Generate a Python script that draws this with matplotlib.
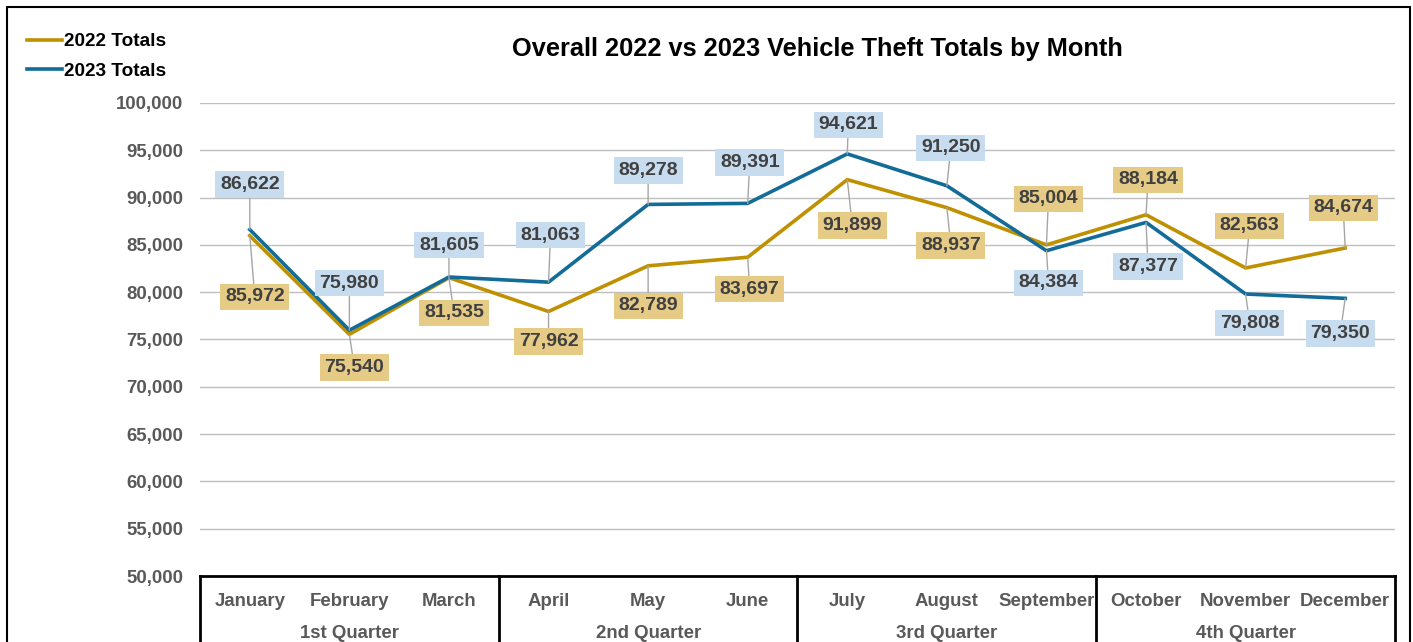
import matplotlib.pyplot as plt
import matplotlib.patches as mpatches
import matplotlib.transforms as mtransforms
from matplotlib.ticker import FuncFormatter, MultipleLocator

plt.rcParams['font.family'] = ['Liberation Sans', 'DejaVu Sans']

# Data
months = ["January", "February", "March", "April", "May", "June",
          "July", "August", "September", "October", "November", "December"]
quarters = ["1st Quarter", "2nd Quarter", "3rd Quarter", "4th Quarter"]
totals_2022 = [85972, 75540, 81535, 77962, 82789, 83697,
               91899, 88937, 85004, 88184, 82563, 84674]
totals_2023 = [86622, 75980, 81605, 81063, 89278, 89391,
               94621, 91250, 84384, 87377, 79808, 79350]

# label offsets (pixels, +y = down) from each point
off_2022 = [(5, 61), (5, 33), (5, 35), (0, 30), (0, 40), (2, 32),
            (5, 46), (4, 38), (2, -46), (2, -35), (4, -42), (-2, -40)]
off_2023 = [(0, -45), (0, -47), (0, -32), (2, -47), (0, -34), (2, -41),
            (1, -29), (4, -38), (2, 32), (2, 44), (4, 29), (-5, 35)]

gold = "#BF9000"
blue = "#136C98"
gold_bg = "#E5CB86"
blue_bg = "#C8DCF0"
gray_txt = "#595959"

fig, ax = plt.subplots(figsize=(14.13, 6.42), dpi=100)
fig.subplots_adjust(left=200/1413, right=1395/1413, top=1-103/642, bottom=1-576/642)

x = list(range(len(months)))
ax.plot(x, totals_2022, color=gold, lw=2.6, label="2022 Totals", zorder=3)
ax.plot(x, totals_2023, color=blue, lw=2.6, label="2023 Totals", zorder=4)

# data labels with leader lines
for vals, offs, bg in [(totals_2022, off_2022, gold_bg), (totals_2023, off_2023, blue_bg)]:
    for i, v in enumerate(vals):
        dx, dy = offs[i]
        ax.annotate(f"{v:,}", xy=(i, v), xytext=(dx, -dy), textcoords="offset pixels",
                    ha="center", va="center", fontsize=14, fontweight="bold", color="#404040",
                    bbox=dict(boxstyle="square,pad=0.24", fc=bg, ec="none"),
                    arrowprops=dict(arrowstyle="-", color="#A6A6A6", lw=1, shrinkA=0, shrinkB=0),
                    zorder=5, annotation_clip=False)

ax.set_xlim(-0.5, 11.5)
ax.set_ylim(50000, 100000)
ax.yaxis.set_major_locator(MultipleLocator(5000))
ax.yaxis.set_major_formatter(FuncFormatter(lambda v, p: f"{int(v):,}"))
ax.grid(axis="y", color="#BFBFBF", lw=1)
ax.set_axisbelow(True)
for s in ["top", "right", "left"]:
    ax.spines[s].set_visible(False)
ax.spines["bottom"].set_color("black")
ax.spines["bottom"].set_linewidth(2)
ax.tick_params(axis="y", length=0, labelsize=13.4, labelcolor=gray_txt, pad=12)
for t in ax.get_yticklabels():
    t.set_fontweight("bold")
ax.set_xticks([])

# Category axis with quarter grouping
trans = mtransforms.blended_transform_factory(ax.transData, ax.transAxes)
for i, m in enumerate(months):
    ax.text(i, -25/473, m, transform=trans, ha="center", va="center",
            fontsize=13.4, fontweight="bold", color=gray_txt)
for q, name in enumerate(quarters):
    ax.text(3*q + 1, -57/473, name, transform=trans, ha="center", va="center",
            fontsize=13.4, fontweight="bold", color=gray_txt)
for b in [-0.5, 2.5, 5.5, 8.5, 11.5]:
    ax.plot([b, b], [0, -0.3], transform=trans, color="black", lw=2, clip_on=False)

# Title and legend
fig.text(817/1413, 1-49/642, "Overall 2022 vs 2023 Vehicle Theft Totals by Month",
         ha="center", va="center", fontsize=18.3, fontweight="bold")
fig.legend(loc="upper left", bbox_to_anchor=(27/1413, 1-33/642), frameon=False,
           borderpad=0, borderaxespad=0,
           handlelength=1.85, handletextpad=0.1, labelspacing=0.65,
           prop=dict(size=13.7, weight="bold"))

# outer border
fig.patches.append(mpatches.Rectangle((7/1413, -0.1), 1403/1413, 1.1 - 7/642,
                                      transform=fig.transFigure, fill=False,
                                      ec="black", lw=1.5))

fig.savefig("out.png", dpi=100)
